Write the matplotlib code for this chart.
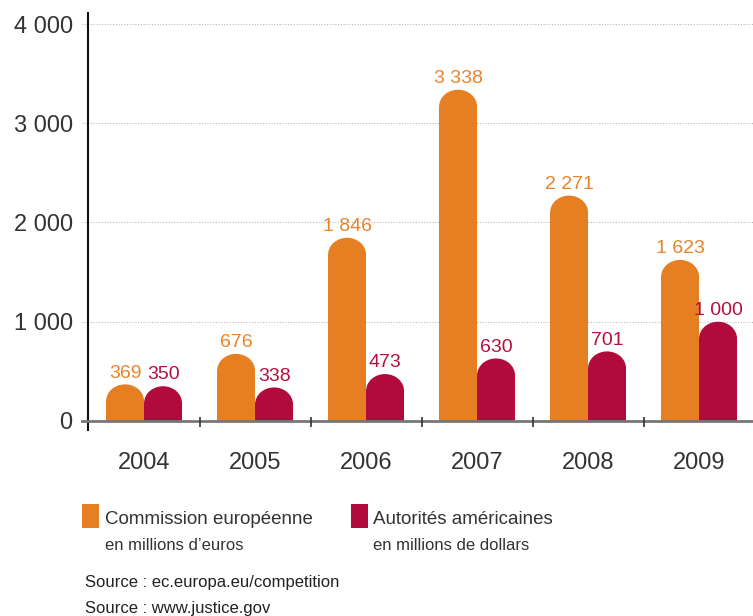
import matplotlib.pyplot as plt
from matplotlib.patches import Rectangle, Ellipse

years = ["2004", "2005", "2006", "2007", "2008", "2009"]
commission = [369, 676, 1846, 3338, 2271, 1623]
autorites = [350, 338, 473, 630, 701, 1000]
labels_commission = ["369", "676", "1 846", "3 338", "2 271", "1 623"]
labels_autorites = ["350", "338", "473", "630", "701", "1 000"]
yticks = [0, 1000, 2000, 3000, 4000]
ytick_labels = ["0", "1 000", "2 000", "3 000", "4 000"]

ORANGE = "#E67E22"
RED = "#B00B3B"
TXT = "#333333"

plt.rcParams["font.family"] = ["Liberation Sans", "DejaVu Sans"]

fig = plt.figure(figsize=(7.53, 6.16), dpi=100)
ax = fig.add_axes([88 / 753, 1 - 430 / 616, 1 - 88 / 753, (430 - 13) / 616])
ax.set_xlim(-0.505, 5.486)
ax.set_ylim(-91, 4111)

w = 0.342
cap = 170  # hauteur de l'arrondi en haut des barres


def rounded_bar(x, v, color):
    ax.add_patch(Rectangle((x - w / 2, 0), w, v - cap, color=color, lw=0, zorder=3))
    ax.add_patch(Ellipse((x, v - cap), w, 2 * cap, color=color, lw=0, zorder=3))


for i in range(len(years)):
    xo = i - w / 2
    xr = i + w / 2
    rounded_bar(xo, commission[i], ORANGE)
    rounded_bar(xr, autorites[i], RED)
    ax.annotate(labels_commission[i], (xo, commission[i]), xytext=(0, 2),
                textcoords="offset points", ha="center", va="bottom",
                color="#E8832A", fontsize=14)
    ax.annotate(labels_autorites[i], (xr, autorites[i]), xytext=(0, 2),
                textcoords="offset points", ha="center", va="bottom",
                color="#B5103F", fontsize=14)

# grille pointillée
x0, x1 = ax.get_xlim()
for g in yticks[1:]:
    ax.plot([x0 - 0.054, x1], [g, g], ls=(0, (1, 1.5)), lw=0.8, color="#bbbbbb",
            clip_on=False, zorder=1)

# ligne de base et séparateurs
ax.plot([x0 - 0.054, x1], [0, 0], color="#777777", lw=2, clip_on=False, zorder=4)
ax.vlines([0.5, 1.5, 2.5, 3.5, 4.5], -60, 40, color="#333333", lw=1.2, zorder=4)

for s in ["top", "right", "bottom"]:
    ax.spines[s].set_visible(False)
ax.spines["left"].set_linewidth(1.5)
ax.spines["left"].set_color("#111111")

ax.set_yticks(yticks)
ax.set_yticklabels(ytick_labels)
ax.set_xticks(range(len(years)))
ax.set_xticklabels(years)
ax.tick_params(axis="y", length=0, pad=11, labelsize=17, labelcolor=TXT)
ax.tick_params(axis="x", length=0, pad=16, labelsize=17, labelcolor=TXT)

# légende
fig.patches.append(Rectangle((82 / 753, 1 - 528 / 616), 17 / 753, 24 / 616,
                             transform=fig.transFigure, color=ORANGE, lw=0))
fig.patches.append(Rectangle((351 / 753, 1 - 528 / 616), 17 / 753, 24 / 616,
                             transform=fig.transFigure, color=RED, lw=0))
fig.text(105 / 753, 1 - 520 / 616, "Commission européenne", fontsize=13.5,
         color=TXT, va="center")
fig.text(105 / 753, 1 - 546 / 616, "en millions d\u2019euros", fontsize=12,
         color=TXT, va="center")
fig.text(373 / 753, 1 - 520 / 616, "Autorités américaines", fontsize=13.5,
         color=TXT, va="center")
fig.text(373 / 753, 1 - 546 / 616, "en millions de dollars", fontsize=12,
         color=TXT, va="center")

fig.text(85 / 753, 1 - 583 / 616, "Source : ec.europa.eu/competition",
         fontsize=12, color="#222222", va="center")
fig.text(85 / 753, 1 - 608 / 616, "Source : www.justice.gov",
         fontsize=12, color="#222222", va="center")

fig.savefig("out.png", dpi=100)
